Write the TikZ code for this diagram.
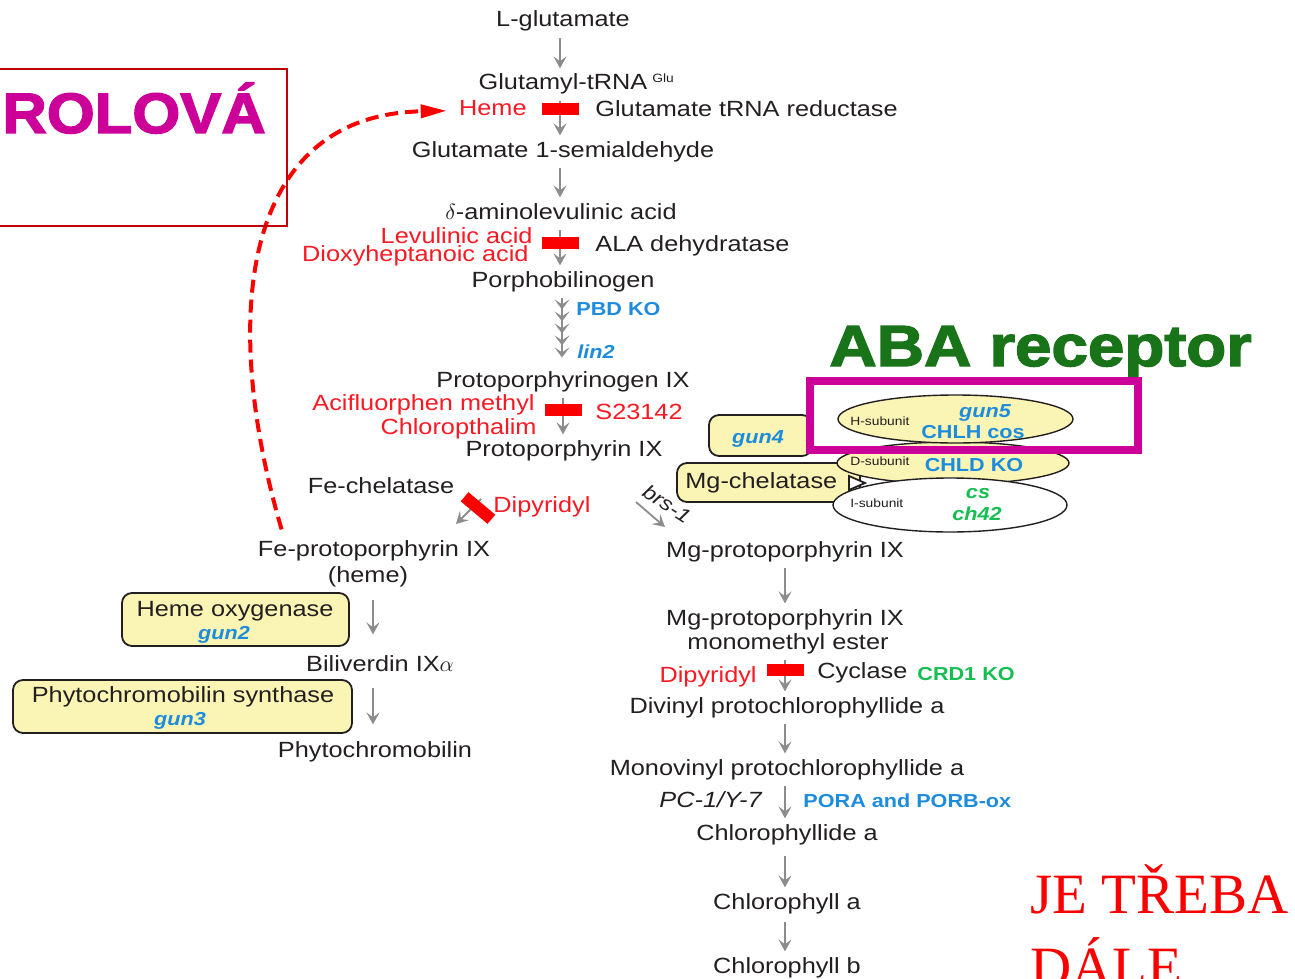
\documentclass[tikz,border=0pt]{standalone}
\usepackage{fontspec}
\setmainfont{Liberation Sans}[FakeStretch=1.15]
\newfontfamily\heavyfont{Liberation Sans}[FakeStretch=1.08,BoldFeatures={FakeBold=2.5}]
\newfontfamily\widefont{Liberation Sans}[FakeStretch=1.13,BoldFeatures={FakeBold=2.5}]
\newfontfamily\serifnote{Liberation Serif}
\usetikzlibrary{arrows.meta,shapes.geometric}
\definecolor{ink}{RGB}{35,31,32}
\definecolor{inhred}{RGB}{250,25,35}
\definecolor{blockred}{RGB}{250,0,0}
\definecolor{geneblue}{RGB}{30,140,220}
\definecolor{genegreen}{RGB}{20,190,80}
\definecolor{enzfill}{RGB}{250,245,180}
\definecolor{stepgray}{RGB}{140,140,140}
\definecolor{abagreen}{RGB}{25,115,25}
\definecolor{accent}{RGB}{204,0,153}
\definecolor{boxred}{RGB}{192,0,0}
\tikzset{
  met/.style={anchor=base,inner sep=0pt,text=ink,font=\fontsize{11}{13}\selectfont,execute at begin node=\strut},
  inh/.style={met,text=inhred},
  gene/.style={anchor=base,inner sep=0pt,text=geneblue,font=\fontsize{9.4}{11}\selectfont\bfseries},
  subl/.style={anchor=base west,inner sep=0pt,text=ink,font=\fontsize{6}{7}\selectfont},
  blockbar/.style={fill=blockred,inner sep=0pt,minimum width=18.5pt,minimum height=6pt},
  conv/.style={draw=stepgray,line width=0.9pt,shorten <=1.5pt,shorten >=1.5pt,-{Stealth[length=6pt,width=6.5pt,inset=2.5pt]}},
  chev/.tip={Stealth[length=5pt,width=7.5pt,inset=2.5pt,sep=1pt]},
  enz/.style={draw=ink,line width=0.9pt,fill=enzfill,rounded corners=5pt,inner sep=0pt},
  subunit/.style={ellipse,draw=ink,line width=0.7pt,inner sep=0pt},
  feedback/.style={draw=blockred,line width=2pt,dash pattern=on 6.5pt off 3.5pt,-{Triangle[length=13pt,width=6.5pt]}}
}
\begin{document}
\begin{tikzpicture}[x=0.5pt,y=-0.5pt]
\useasboundingbox (0,0) rectangle (1295,979);
\coordinate (colL) at (560,0);
\coordinate (colP) at (562,0);
\coordinate (colS) at (563,0);
\coordinate (colR) at (785,0);
\coordinate (colH) at (373,0);

% main trunk
\node[met] (glu) at (563,27) {L-glutamate};
\node[met] (gtrna) at (563,90) {Glutamyl-tRNA\rlap{\hspace{2.5pt}\raisebox{3.5pt}{\fontsize{6}{7}\selectfont Glu}}};
\node[met] (gsa) at (563,157) {Glutamate 1-semialdehyde};
\node[met] (ala) at (561,219) {$\delta$-aminolevulinic acid};
\node[met] (pbg) at (563,287) {Porphobilinogen};
\node[met] (ppgen) at (563,387) {Protoporphyrinogen IX};
\node[met] (ppix) at (564,456) {Protoporphyrin IX};
\draw[conv] (glu.south -| colL) -- (gtrna.north -| colL);
\draw[conv] (gtrna.south -| colL) -- (gsa.north -| colL);
\draw[conv] (gsa.south -| colL) -- (ala.north -| colL);
\draw[conv] (ala.south -| colL) -- (pbg.north -| colL);
\draw[conv,shorten >=4.5pt,-{chev[]chev[]chev[]chev[]chev[]}] (pbg.south -| colP) -- (ppgen.north -| colP);
\draw[conv] (ppgen.south -| colS) -- (ppix.north -| colS);

\node[inh,anchor=base east] (hemeinh) at (527,116) {Heme};
\node[blockbar] (bar1) at (560,109) {};
\node[met,anchor=base west] (gtr) at (595,117) {Glutamate tRNA reductase};
\node[inh,anchor=base east] (levu) at (533,243) {Levulinic acid};
\node[inh,anchor=base east] (dioxy) at (529,261) {Dioxyheptanoic acid};
\node[blockbar] (bar2) at (560,243) {};
\node[met,anchor=base west] (alad) at (595,251) {ALA dehydratase};
\node[gene,anchor=base west] (pbdko) at (576,315) {PBD KO};
\node[gene,anchor=base west] (lin) at (577,358) {\itshape lin2};
\node[inh,anchor=base east] (aciflu) at (535,410) {Acifluorphen methyl};
\node[inh,anchor=base east] (chlorop) at (537,434) {Chloropthalim};
\node[blockbar] (bar3) at (563,410) {};
\node[inh,anchor=base west] (s231) at (595,419) {S23142};

% heme branch
\node[met] (fech) at (381,493) {Fe-chelatase};
\coordinate (feA) at (481,499);
\coordinate (feB) at (456,524);
\draw[conv,shorten <=0pt,shorten >=0pt] (feA) -- (feB);
\node[blockbar,rotate=-40,minimum width=17.5pt] (bar5) at (478,508) {};
\node[inh,anchor=base west] (dipy1) at (493,512) {Dipyridyl};
\node[met] (feppix) at (374,556) {Fe-protoporphyrin IX};
\node[met] (fepheme) at (368,582) {(heme)};
\node[enz,minimum width=113.5pt,minimum height=26.5pt] (hobox) at (235.5,619.5) {};
\node[met] (hotxt) at (235,616) {Heme oxygenase};
\node[gene] (gun2) at (224,639) {\itshape gun2};
\node[met] (bv) at (380,671) {Biliverdin IX$\alpha$};
\node[enz,minimum width=169.5pt,minimum height=26.5pt] (pcbbox) at (182.5,706.5) {};
\node[met] (pcbtxt) at (183,702) {Phytochromobilin synthase};
\node[gene] (gun3) at (180,725) {\itshape gun3};
\node[met] (pcb) at (375,757) {Phytochromobilin};
\draw[conv,shorten <=5pt,shorten >=9pt] (fepheme.south -| colH) -- (bv.north -| colH);
\draw[conv,shorten <=4.5pt,shorten >=7pt] (bv.south -| colH) -- (pcb.north -| colH);
\draw[feedback] ([xshift=12pt,yshift=4pt]feppix.north west) .. controls (220,320) and (240,115) .. ([xshift=-6pt]hemeinh.west);

% chlorophyll branch
\coordinate (mgA) at (636,502);
\coordinate (mgB) at (665,527);
\draw[conv,shorten <=0pt,shorten >=0pt] (mgA) -- (mgB);
\node[inner sep=0pt,text=ink,font=\fontsize{10}{12}\selectfont\itshape,rotate=-33] (brs) at (667,504) {brs-1};
\node[enz,minimum width=51.5pt,minimum height=20.5pt] (gun4box) at (760.5,435.5) {};
\node[gene] (gun4) at (758,443) {\itshape gun4};
\node[enz,minimum width=91.5pt,minimum height=19.5pt] (mgbox) at (768.5,482.5) {};
\node[met,anchor=base west] (mgch) at (685,488) {Mg-chelatase};
\node[subunit,fill=enzfill,minimum width=116pt,minimum height=21pt] (dsub) at (953,463) {};
\node[subunit,fill=enzfill,minimum width=117.5pt,minimum height=24pt] (hsub) at (955.5,419) {};
\node[subunit,fill=white,minimum width=117pt,minimum height=27pt] (isub) at (950,505) {};
\draw[ink,line width=0.9pt,fill=white] (849,476) -- (865,483) -- (849,490) -- cycle;
\node[subl] (hlab) at (850,425) {H-subunit};
\node[gene] (gun5) at (985,417) {\itshape gun5};
\node[gene] (chlh) at (973,438) {CHLH cos};
\node[subl] (dlab) at (850,465) {D-subunit};
\node[gene] (chld) at (974,471) {CHLD KO};
\node[subl] (ilab) at (850,507) {I-subunit};
\node[gene,text=genegreen] (cs) at (978,498) {\itshape cs};
\node[gene,text=genegreen] (ch42) at (977,520) {\itshape ch42};

\node[met] (mgp) at (785,557) {Mg-protoporphyrin IX};
\node[met] (mgpme) at (785,625) {Mg-protoporphyrin IX};
\node[met] (mgpme2) at (788,649) {monomethyl ester};
\node[met] (dvp) at (787,713) {Divinyl protochlorophyllide a};
\node[met] (mvp) at (787,775) {Monovinyl protochlorophyllide a};
\node[met] (chlide) at (787,840) {Chlorophyllide a};
\node[met] (chla) at (787,909) {Chlorophyll a};
\node[met] (chlb) at (787,973) {Chlorophyll b};
\draw[conv] (mgp.south -| colR) -- (mgpme.north -| colR);
\draw[conv] (mgpme2.south -| colR) -- (dvp.north -| colR);
\draw[conv] (dvp.south -| colR) -- (mvp.north -| colR);
\draw[conv] (mvp.south -| colR) -- (chlide.north -| colR);
\draw[conv,shorten <=4pt] (chlide.south -| colR) -- (chla.north -| colR);
\draw[conv,shorten <=2.5pt] (chla.south -| colR) -- (chlb.north -| colR);
\node[inh,anchor=base east] (dipy2) at (757,682) {Dipyridyl};
\node[blockbar] (bar4) at (785,670) {};
\node[met,anchor=base west] (cyc) at (817,678) {Cyclase};
\node[gene,text=genegreen,anchor=base west] (crd) at (917,680) {CRD1 KO};
\node[met,anchor=base east] (pc) at (762,807) {\itshape PC-1/Y-7};
\node[gene,anchor=base west] (por) at (803,807) {PORA and PORB-ox};

% slide notes
\draw[boxred,line width=0.75pt] (-2,69) rectangle (287,226);
\node[anchor=base west,inner sep=0pt,text=accent,font=\heavyfont\bfseries\fontsize{28.5}{30}\selectfont] (rolova) at (2,133) {ROLOVÁ};
\node[anchor=base west,inner sep=0pt,text=abagreen,font=\widefont\bfseries\fontsize{29}{31}\selectfont] (aba) at (829,366) {ABA receptor};
\draw[accent,line width=4pt] (810,381) rectangle (1138,450);
\node[anchor=base west,inner sep=0pt,text=blockred,font=\serifnote\fontsize{28.5}{30}\selectfont] (note1) at (1030,913) {JE TŘEBA};
\node[anchor=base west,inner sep=0pt,text=blockred,font=\serifnote\fontsize{28.5}{30}\selectfont] (note2) at (1030,986) {DÁLE};
\end{tikzpicture}
\end{document}
